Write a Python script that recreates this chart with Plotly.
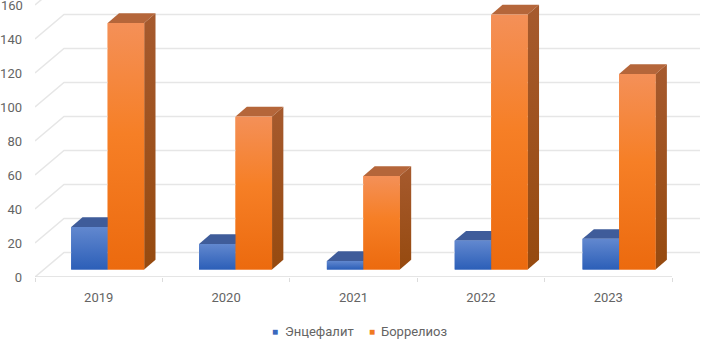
import plotly.graph_objects as go

categories = ["2019", "2020", "2021", "2022", "2023"]
encephalitis = [25, 15, 5, 17, 18]
borreliosis = [145, 90, 55, 150, 115]
y_ticks = [0, 20, 40, 60, 80, 100, 120, 140, 160]

PX_X = 127.4
PX_Y = 1.7
DX = 29 / PX_X      # depth offset of the back wall, x units
DY = 24.5 / PX_Y    # depth offset of the back wall, value units
D0, D1 = 0.31, 0.70 # bar front/back depth
BW = 0.2865
STEP = 1.0035       # bar spacing relative to the category spacing
GRID = "#e6e6e6"
TXT = "#646464"
FONT = "Roboto"

blue = dict(name="Энцефалит", vals=encephalitis, start=-BW, mid="#3f6fc4",
            front=[[0, "#2c5fb8"], [1, "#6288cf"]],
            side=[[0, "#1f437f"], [1, "#3f5c9a"]], top="#3f5c9a")
orange = dict(name="Боррелиоз", vals=borreliosis, start=0, mid="#f47d26",
              front=[[0, "#ec6a0e"], [0.55, "#f67f26"], [1, "#f49058"]],
              side=[[0, "#964a0f"], [1, "#a65a2e"]], top="#b5663a")

fig = go.Figure()
n = len(categories)
idx = list(range(n))

# bars (front faces)
for s in (blue, orange):
    fig.add_trace(go.Bar(x=[i * STEP + D0 * DX for i in idx], y=s["vals"],
                         base=[D0 * DY] * n, width=BW, offset=s["start"],
                         marker=dict(color=s["mid"], line=dict(width=0)),
                         name=s["name"], showlegend=False, hoverinfo="skip"))


def line(xs, ys, width=1.5, color=GRID):
    fig.add_trace(go.Scatter(x=xs, y=ys, mode="lines", showlegend=False, hoverinfo="skip",
                             line=dict(color=color, width=width)))


def poly(xs, ys, color=None, scale=None):
    kw = dict(fillcolor=color) if color else dict(
        fillgradient=dict(type="vertical", colorscale=scale))
    fig.add_trace(go.Scatter(x=xs + xs[:1], y=ys + ys[:1], mode="lines", fill="toself",
                             line=dict(width=0), showlegend=False, hoverinfo="skip", **kw))


# walls, grid and floor edge
x_lo, x_hi = -0.5, n - 0.5
x_end = 4.72
for v in y_ticks:
    line([x_lo, x_lo + DX, x_end], [v, v + DY, v + DY])
line([x_lo, x_hi], [0, 0], width=1.6, color="#dcdcdc")

# 3D faces
for i in idx:
    for s in (blue, orange):
        v = s["vals"][i]
        l = i * STEP + s["start"] + D0 * DX
        r = l + BW
        b = D0 * DY
        t = v + b
        dx, dy = (D1 - D0) * DX, (D1 - D0) * DY
        poly([l, l + dx, r + dx, r], [t, t + dy, t + dy, t], color=s["top"])
        poly([r, r + dx, r + dx, r], [b, b + dy, t + dy, t], scale=s["side"])
        poly([l, r, r, l], [b, b, t, t], scale=s["front"])

fig.update_layout(
    width=706, height=340, autosize=False,
    margin=dict(l=35, r=0, t=0, b=63),
    paper_bgcolor="white", plot_bgcolor="white",
    barmode="overlay", showlegend=False,
    font=dict(family=FONT, size=13, color=TXT),
    xaxis=dict(range=[x_lo, x_lo + 671 / PX_X], tickmode="array", tickvals=idx, ticktext=categories,
               showgrid=False, zeroline=False, showline=False, ticks="", ticklabelstandoff=11,
               minor=dict(tickmode="array", tickvals=[i - 0.5 for i in range(n + 1)],
                          ticks="outside", ticklen=4, tickcolor="#dcdcdc", tickwidth=1.2, showgrid=False)),
    yaxis=dict(range=[0, 277 / PX_Y], tickmode="array", tickvals=y_ticks[:-1],
               showgrid=False, zeroline=False, showline=False, ticks="", ticklabelstandoff=12),
    annotations=[
        dict(xref="paper", yref="y", x=0, y=y_ticks[-1], xanchor="right", yanchor="middle",
             text=str(y_ticks[-1]), showarrow=False, xshift=-12, yshift=0,
             borderpad=0, borderwidth=0),
        dict(xref="paper", yref="paper", x=(275 - 35) / 671, y=-54 / 277, xanchor="center", yanchor="middle",
             text="■", showarrow=False, font=dict(size=10, color="#3a68bd")),
        dict(xref="paper", yref="paper", x=(285 - 35) / 671, y=-54 / 277, xanchor="left", yanchor="middle",
             text=blue["name"], showarrow=False, xshift=-2),
        dict(xref="paper", yref="paper", x=(372 - 35) / 671, y=-54 / 277, xanchor="center", yanchor="middle",
             text="■", showarrow=False, font=dict(size=10, color="#f07a22")),
        dict(xref="paper", yref="paper", x=(381 - 35) / 671, y=-54 / 277, xanchor="left", yanchor="middle",
             text=orange["name"], showarrow=False, xshift=-2),
    ],
)
fig.write_html("out.html", config=dict(displayModeBar=False),
               post_script="document.body.style.margin='0';document.documentElement.style.overflow='hidden';")
